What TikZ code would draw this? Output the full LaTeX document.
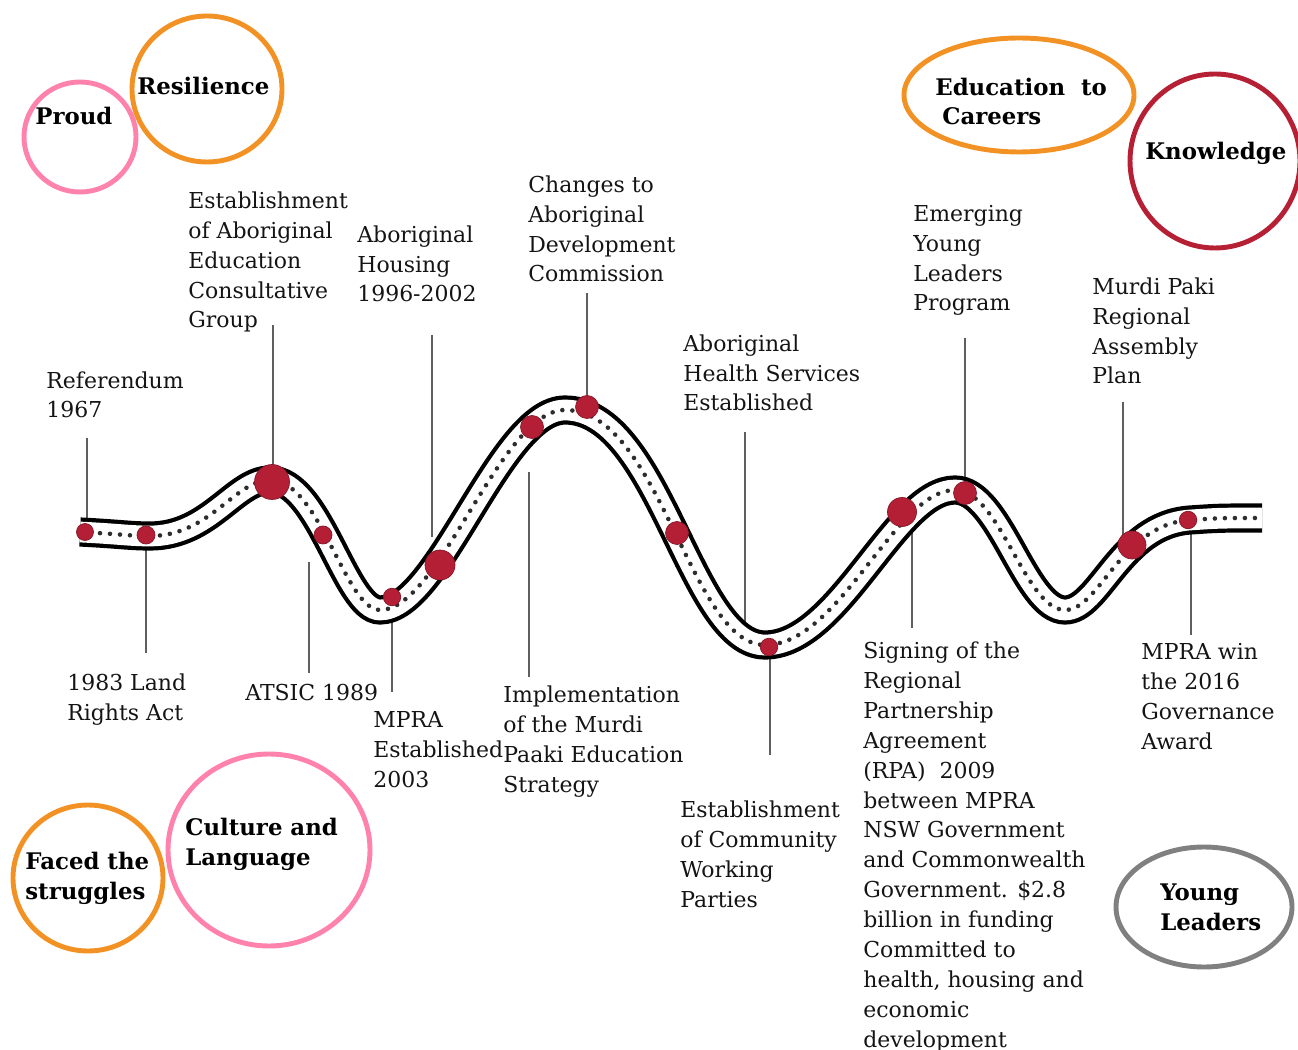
\documentclass[tikz,border=0pt]{standalone}
\usepackage{fontspec}
\setmainfont{DejaVu Serif}
\usetikzlibrary{positioning}

\definecolor{pinkring}{RGB}{255,130,172}
\definecolor{orangering}{RGB}{242,146,36}
\definecolor{redring}{RGB}{181,32,53}
\definecolor{grayring}{RGB}{128,128,128}
\definecolor{stopred}{RGB}{180,31,54}
\definecolor{leadgray}{RGB}{95,95,95}
\definecolor{textblack}{RGB}{20,20,20}
\definecolor{roaddot}{RGB}{45,45,45}

\newcommand{\eventfont}{\fontsize{12.5}{17}\selectfont}
\newcommand{\themefont}{\bfseries\fontsize{13}{17}\selectfont}
% centre line of the road
\newcommand{\roadpath}{(80,532) .. controls (120,534) and (130,536) .. (150,536)
  .. controls (210,536) and (235,480) .. (270,480)
  .. controls (320,480) and (345,610) .. (380,610)
  .. controls (440,610) and (500,410) .. (565,410)
  .. controls (660,410) and (690,645) .. (765,645)
  .. controls (840,645) and (895,490) .. (955,490)
  .. controls (1000,490) and (1025,610) .. (1065,610)
  .. controls (1100,610) and (1120,525) .. (1190,520)
  .. controls (1220,518) .. (1262,518)}

\begin{document}
\begin{tikzpicture}[x=0.02cm, y=-0.02cm,
    stop/.style={circle, fill=stopred, draw=stopred!75!black, line width=0.4pt, inner sep=0pt, minimum size=#1},
    event/.style={anchor=base west, align=left, inner sep=0pt, text=textblack, font=\eventfont},
    theme/.style={anchor=base west, align=left, inner sep=0pt, text=black, font=\themefont},
    ring/.style={draw=#1, line width=2.8pt},
    leader/.style={draw=leadgray, line width=0.7pt}
  ]
\useasboundingbox (0,0) rectangle (1298,1050);

% rings with the themes
\draw[ring=pinkring] (80,137) ellipse [x radius=56, y radius=55];
\draw[ring=orangering] (207,89) ellipse [x radius=75, y radius=73];
\draw[ring=orangering] (1019,95) ellipse [x radius=115, y radius=57];
\draw[ring=redring] (1215,161) ellipse [x radius=85, y radius=87];
\draw[ring=orangering] (88,878) ellipse [x radius=75, y radius=73];
\draw[ring=pinkring] (269,850) ellipse [x radius=101, y radius=96];
\draw[ring=grayring] (1204,907) ellipse [x radius=88, y radius=60];

% (nodes sit on the baseline of their last line)
\node[theme] (proud) at (35,125) {Proud};
\node[theme] (resilience) at (137,95) {Resilience};
\node[theme] (careers) at (935,125) {Education~~to\\\hspace{4pt}Careers};
\node[theme] (knowledge) at (1145,160) {Knowledge};
\node[theme] (struggles) at (25,899) {Faced the\\struggles};
\node[theme] (culture) at (185,865) {Culture and\\Language};
\node[theme] (young) at (1160,930) {Young\\Leaders};

% events above the road
\node[event] (referendum) at (46,418) {Referendum\\1967};
\node[event] (aecg) at (188,328) {Establishment\\of Aboriginal\\Education\\Consultative\\Group};
\node[event] (housing) at (357,302) {Aboriginal\\Housing\\1996-2002};
\node[event] (adc) at (528,282) {Changes to\\Aboriginal\\Development\\Commission};
\node[event] (health) at (683,411) {Aboriginal\\Health Services\\Established};
\node[event] (eylp) at (913,311) {Emerging\\Young\\Leaders\\Program};
\node[event] (assembly) at (1092,384) {Murdi Paki\\Regional\\Assembly\\Plan};

% events below the road
\node[event] (landrights) at (67,720) {1983 Land\\Rights Act};
\node[event] (atsic) at (245,700) {ATSIC 1989};
\node[event] (mpra) at (373,787) {MPRA\\Established\\2003};
\node[event] (strategy) at (503,792) {Implementation\\of the Murdi\\Paaki Education\\Strategy};
\node[event] (cwp) at (680,907) {Establishment\\of Community\\Working\\Parties};
\node[event] (rpa) at (863,1047) {Signing of the\\Regional\\Partnership\\Agreement\\(RPA)~~2009\\between MPRA\\NSW Government\\and Commonwealth\\Government. \$2.8\\billion in funding\\Committed to\\health, housing and\\economic\\development};
\node[event] (award) at (1141,749) {MPRA win\\the 2016\\Governance\\Award};

% leaders
\coordinate (t1) at (87,438);    \coordinate (b1) at (87,524);
\coordinate (t2) at (146,544);   \coordinate (b2) at (146,653);
\coordinate (t3) at (273,325);   \coordinate (b3) at (273,466);
\coordinate (t4) at (309,562);   \coordinate (b4) at (309,673);
\coordinate (t5) at (392,605);   \coordinate (b5) at (392,692);
\coordinate (t6) at (432,335);   \coordinate (b6) at (432,537);
\coordinate (t7) at (529,472);   \coordinate (b7) at (529,677);
\coordinate (t8) at (587,293);   \coordinate (b8) at (587,397);
\coordinate (t9) at (745,432);   \coordinate (b9) at (745,626);
\coordinate (t10) at (770,655);  \coordinate (b10) at (770,755);
\coordinate (t11) at (912,528);  \coordinate (b11) at (912,628);
\coordinate (t12) at (965,338);  \coordinate (b12) at (965,483);
\coordinate (t13) at (1123,402); \coordinate (b13) at (1123,536);
\coordinate (t14) at (1191,532); \coordinate (b14) at (1191,635);
\foreach \i in {1,...,14}
  {
  \draw[leader] (t\i) -- (b\i);
  }

% the road
\draw[line width=16.6pt, black] \roadpath;
\draw[line width=11.8pt, white] \roadpath;
\draw[line width=2.6pt, roaddot, line cap=round, dash pattern=on 0pt off 5.7pt] \roadpath;

% stops on the road
\node[stop=0.34cm] (s1) at (85,532) {};
\node[stop=0.36cm] (s2) at (146,535) {};
\node[stop=0.70cm] (s3) at (272,482) {};
\node[stop=0.36cm] (s4) at (323,535) {};
\node[stop=0.35cm] (s5) at (392,597) {};
\node[stop=0.60cm] (s6) at (440,565) {};
\node[stop=0.46cm] (s7) at (532,427) {};
\node[stop=0.46cm] (s8) at (587,407) {};
\node[stop=0.46cm] (s9) at (677,533) {};
\node[stop=0.35cm] (s10) at (769,647) {};
\node[stop=0.58cm] (s11) at (902,512) {};
\node[stop=0.46cm] (s12) at (965,493) {};
\node[stop=0.56cm] (s13) at (1132,545) {};
\node[stop=0.35cm] (s14) at (1188,520) {};

\end{tikzpicture}
\end{document}
